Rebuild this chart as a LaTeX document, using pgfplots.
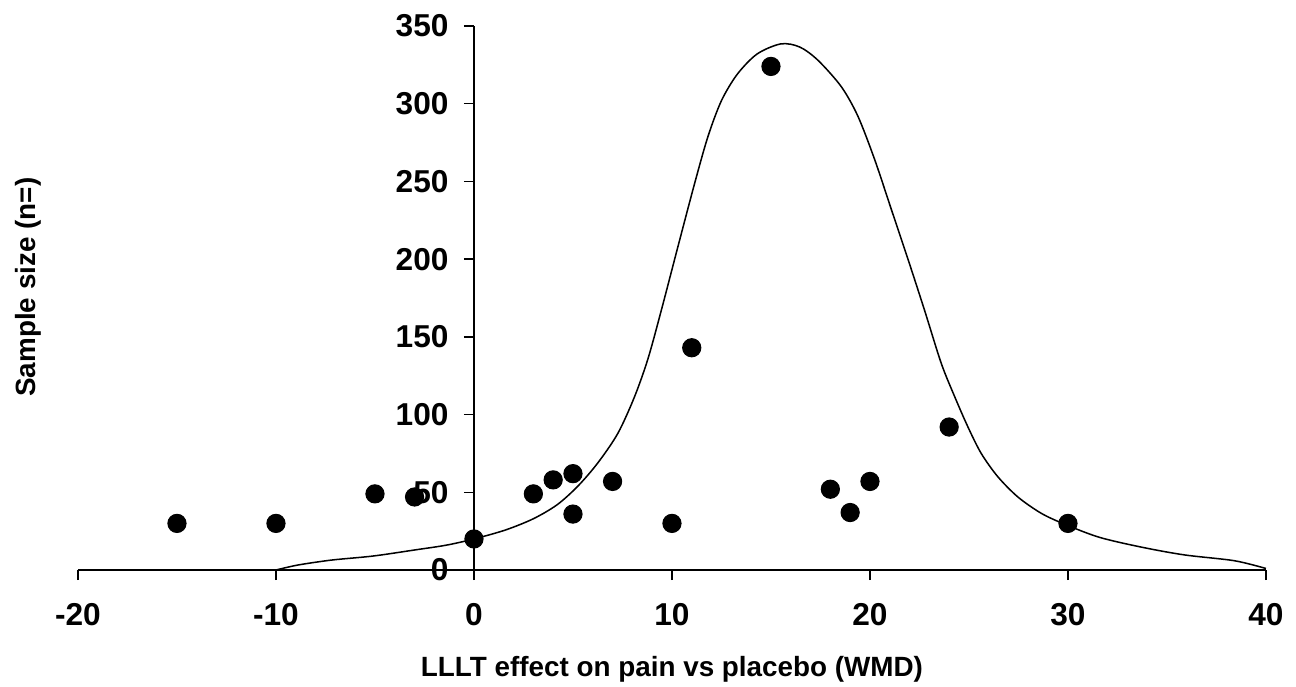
\documentclass[border=0pt]{standalone}
\usepackage{fontspec}
\setmainfont{Liberation Sans}
\usepackage{pgfplots}
\pgfplotsset{compat=1.18}

\begin{document}
\begin{tikzpicture}
\path[use as bounding box] (-1.083cm,-1.611cm) rectangle (16.917cm,7.917cm);
\begin{axis}[
    at={(0,0)}, anchor=south west,
    scale only axis,
    width=16.5cm, height=7.556cm,
    xmin=-20, xmax=40, ymin=0, ymax=350,
    axis x line=bottom, axis y line=center,
    hide obscured y ticks=false,
    axis line style={-, line width=0.6pt},
    xtick={-20,-10,...,40}, ytick={0,50,...,350},
    tick align=outside, major tick length=0.14cm,
    tick style={black, line width=0.6pt},
    /pgf/number format/assume math mode=true,
    ticklabel style={font=\fontsize{12.5}{14}\selectfont\bfseries},
    xticklabel style={yshift=-0.2cm},
    yticklabel style={xshift=-0.09cm},
    xlabel={LLLT effect on pain vs placebo (WMD)},
    ylabel={Sample size (n=)},
    every axis x label/.style={at={(axis description cs:0.5,-0.182)}, anchor=center,
      font=\fontsize{11}{13}\selectfont\bfseries},
    every axis y label/.style={at={(axis description cs:-0.042,0.52)}, anchor=center,
      rotate=90, font=\fontsize{11}{13}\selectfont\bfseries},
    clip=false,
  ]
  % fitted curve
  \addplot[black, line width=0.6pt, smooth, no markers] coordinates {
    (-10,0) (-8.9,3.2) (-7.2,6.4) (-5.1,9) (-3,12.9) (-1.4,16) (0,20)
    (1.6,25.8) (3,33) (4.2,42) (5.25,54) (6.26,69) (7.27,88)
    (8.11,111.5) (8.79,136) (9.46,167) (10.3,208) (11.15,249) (11.82,279)
    (12.5,302) (13.3,319) (14.3,332) (15.5,338.5) (16.45,336.5)
    (17.37,328) (18.55,311) (19.39,292) (20.24,264) (21.08,232) (21.92,200)
    (22.76,167) (23.6,133) (24.28,111.5) (24.95,92) (25.62,75) (26.46,60)
    (27.47,47) (28.65,36.5) (29.83,29.5) (31.6,21) (33.8,14.5) (35.9,9.7)
    (38.4,6) (40,1)
  };
  % studies
  \addplot[only marks, mark=*, mark size=3.6pt, black] coordinates {
    (-15,30) (-10,30) (-5,49) (-3,47) (0,20) (3,49) (4,58) (5,62) (5,36)
    (7,57) (10,30) (11,143) (15,324) (18,52) (19,37) (20,57) (24,92) (30,30)
  };
\end{axis}
\end{tikzpicture}
\end{document}
